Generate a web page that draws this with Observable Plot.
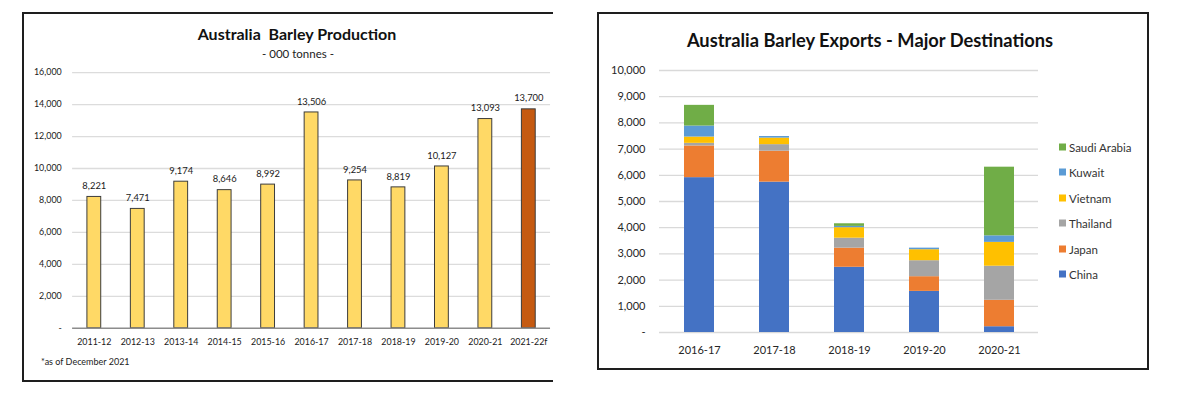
<!DOCTYPE html>
<html>
<head>
<meta charset="utf-8">
<script src="https://cdn.jsdelivr.net/npm/d3@7"></script>
<script src="https://cdn.jsdelivr.net/npm/@observablehq/plot@0.6"></script>
<style>
  html, body { margin: 0; padding: 0; background: #fff; }
  #page { position: relative; width: 1200px; height: 394px; overflow: hidden; font-family: Lato, "Open Sans", sans-serif; }
  .panel { position: absolute; box-sizing: border-box; border: 2px solid #1e1e1e; }
  .abs { position: absolute; white-space: nowrap; }
  .center { transform: translate(-50%, -50%); }
  .legend-item { position: absolute; left: 1059px; font-size: 11.5px; color: #333; transform: translateY(-50%); display: flex; align-items: center; }
  .legend-item span.sw { display: inline-block; width: 7px; height: 7px; margin-right: 3px; }
</style>
</head>
<body>
<div id="page">
  <div class="panel" style="left:22px; top:12px; width:531px; height:370px; border-right:none;"></div>
  <div class="panel" style="left:597px; top:12px; width:552px; height:358px;"></div>
  <div id="leftclip" class="abs" style="left:0; top:0; width:553px; height:394px; overflow:hidden;"></div>
  <div id="rightchart" class="abs" style="left:600px; top:0;"></div>
  <div class="abs center" style="left:297px; top:33px; font-weight:700; font-size:16px; color:#111;">Australia&nbsp; Barley Production</div>
  <div class="abs center" style="left:298px; top:53px; font-size:11.5px; color:#222;">- 000 tonnes -</div>
  <div class="abs" style="left:41px; top:356px; font-size:9px; color:#222;">*as of December 2021</div>
  <div class="abs center" style="left:870px; top:40px; font-weight:700; font-size:18.3px; color:#111;">Australia Barley Exports - Major Destinations</div>
  <div id="legend"></div>
</div>
<script>
// ---- Left chart data: Australia Barley Production ('000 tonnes)
const seasons = ["2011-12","2012-13","2013-14","2014-15","2015-16","2016-17","2017-18","2018-19","2019-20","2020-21","2021-22f"];
const production = [8221, 7471, 9174, 8646, 8992, 13506, 9254, 8819, 10127, 13093, 13700];
const forecastSeason = "2021-22f";
const prodTicks = [0, 2000, 4000, 6000, 8000, 10000, 12000, 14000, 16000];
const actualColor = "#FFD966";
const forecastColor = "#C55A11";

// ---- Right chart data: Australia Barley Exports - Major Destinations
const exportYears = ["2016-17","2017-18","2018-19","2019-20","2020-21"];
const countries = ["China","Japan","Thailand","Vietnam","Kuwait","Saudi Arabia"];
const countryColors = ["#4472C4","#ED7D31","#A5A5A5","#FFC000","#5B9BD5","#70AD47"];
const china    = [5910, 5740, 2490, 1570, 220];
const japan    = [1210, 1180, 730, 560, 1010];
const thailand = [100, 250, 380, 610, 1300];
const vietnam  = [240, 250, 400, 420, 910];
const kuwait   = [420, 60, 50, 60, 250];
const saudi    = [790, 0, 100, 0, 2620];
const exportTicks = [0, 1000, 2000, 3000, 4000, 5000, 6000, 7000, 8000, 9000, 10000];

const comma = d3.format(",");
const tickFmt = d => d === 0 ? "-" : comma(d);

const prodData = seasons.map((s, i) => ({
  season: s, value: production[i], color: s === forecastSeason ? forecastColor : actualColor
}));

const left = Plot.plot({
  width: 560, height: 394,
  marginLeft: 73, marginRight: 3, marginTop: 73, marginBottom: 62,
  style: { fontFamily: "Lato, sans-serif", fontSize: "9px", color: "#1a1a1a", background: "transparent" },
  x: { domain: seasons, paddingInner: 0.68, paddingOuter: 0.34, tickSize: 0, tickPadding: 10, label: null },
  y: { domain: [0, 16000], ticks: prodTicks, tickFormat: tickFmt, tickSize: 0, tickPadding: 11, label: null },
  color: { type: "identity" },
  marks: [
    Plot.ruleY(prodTicks.filter(d => d > 0), { stroke: "#dcdcdc", strokeWidth: 1.3 }),
    Plot.barY(prodData, { x: "season", y: "value", fill: "color", stroke: "#3a3a3a", strokeWidth: 1 }),
    Plot.ruleY([0], { stroke: "#8c8c8c", strokeWidth: 1.5 }),
    Plot.text(prodData, { x: "season", y: "value", text: d => comma(d.value), dy: -11, fontSize: 9.5, fill: "#1a1a1a" })
  ]
});
document.getElementById("leftclip").appendChild(left);

const series = [china, japan, thailand, vietnam, kuwait, saudi];
const exportData = [];
countries.forEach((c, ci) => exportYears.forEach((y, yi) => exportData.push({ country: c, year: y, value: series[ci][yi] })));

const right = Plot.plot({
  width: 550, height: 394,
  marginLeft: 59, marginRight: 112, marginTop: 70, marginBottom: 62,
  style: { fontFamily: "Lato, sans-serif", fontSize: "11px", color: "#262626", background: "transparent" },
  x: { domain: exportYears, paddingInner: 0.6, paddingOuter: 0.3, tickSize: 0, tickPadding: 14, label: null },
  y: { domain: [0, 10000], ticks: exportTicks, tickFormat: tickFmt, tickSize: 0, tickPadding: 14, label: null },
  color: { domain: countries, range: countryColors },
  marks: [
    Plot.ruleY(exportTicks, { stroke: "#d9d9d9", strokeWidth: 1.3 }),
    Plot.barY(exportData, { x: "year", y: "value", fill: "country" })
  ]
});
document.getElementById("rightchart").appendChild(right);

// Legend (top to bottom: reverse of stack order)
const legendY = [146.7, 172, 197.5, 223, 248.7, 274.3];
const legend = document.getElementById("legend");
countries.slice().reverse().forEach((c, i) => {
  const div = document.createElement("div");
  div.className = "legend-item";
  div.style.top = legendY[i] + "px";
  const sw = document.createElement("span");
  sw.className = "sw";
  sw.style.background = countryColors[countries.indexOf(c)];
  div.appendChild(sw);
  div.appendChild(document.createTextNode(c));
  legend.appendChild(div);
});
</script>
</body>
</html>
